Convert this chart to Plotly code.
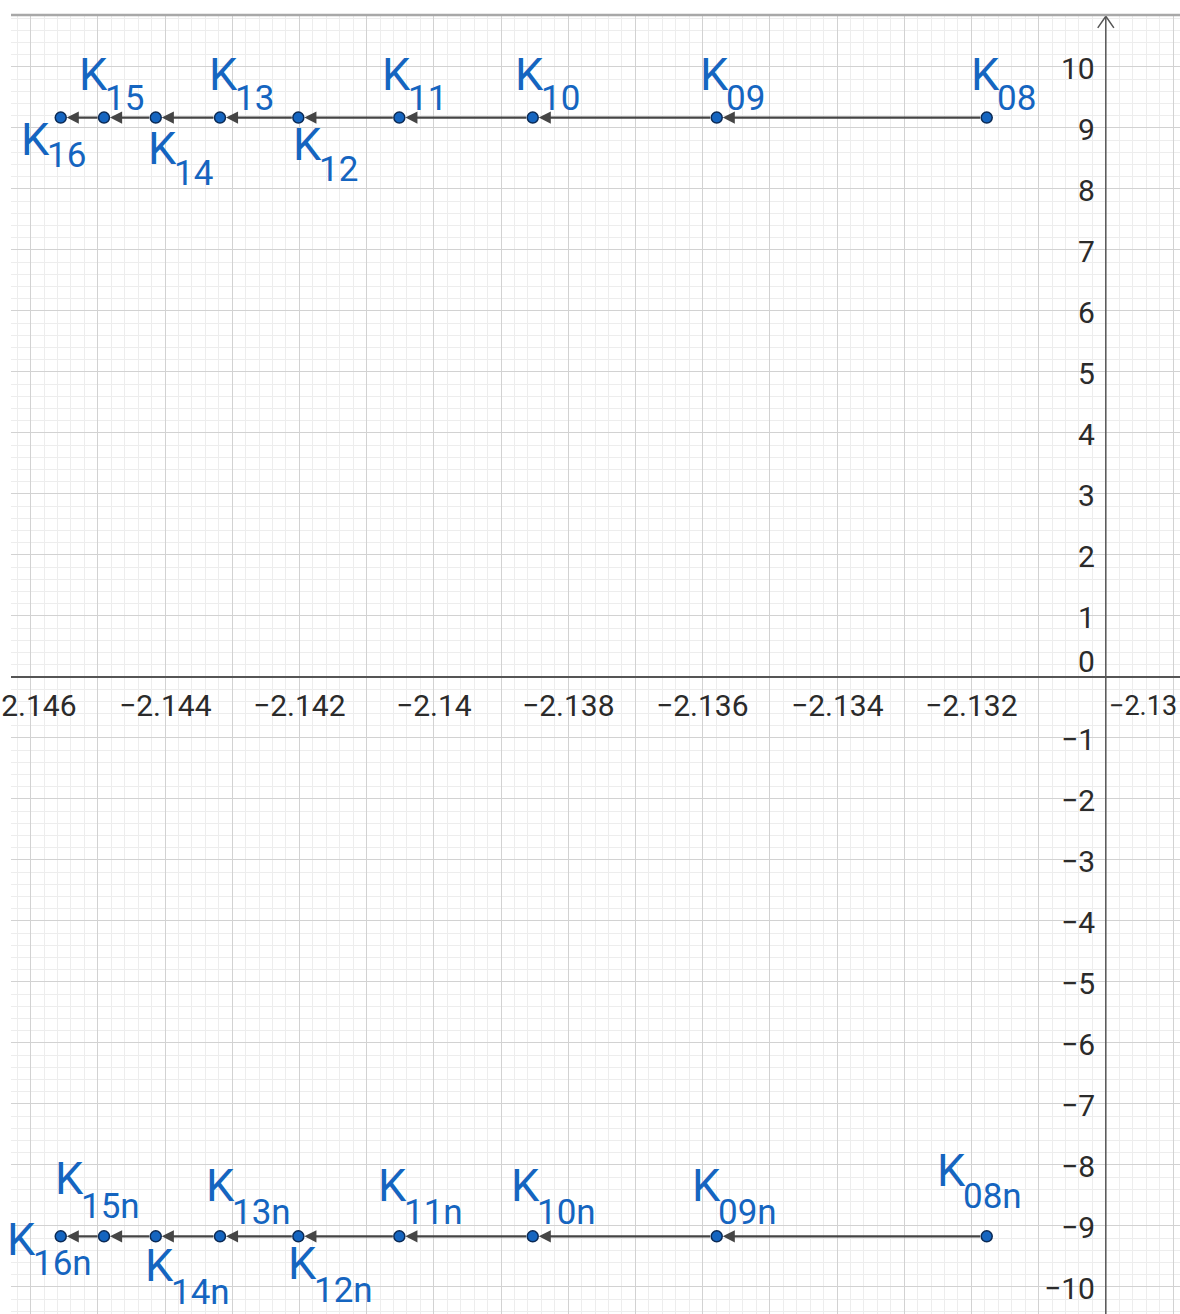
import plotly.graph_objects as go

# iterates K08 .. K16 (upper branch) and their mirror images K08n .. K16n
names = ["08", "09", "10", "11", "12", "13", "14", "15", "16"]
k_x = [-2.131772, -2.135790, -2.138528, -2.140513, -2.142016,
       -2.143182, -2.144138, -2.144908, -2.145552]
k_y_top = [9.17] * 9
k_y_bot = [-9.17] * 9

x_ticks = [-2.146, -2.144, -2.142, -2.14, -2.138, -2.136, -2.134, -2.132, -2.13]
x_tick_text = ["−2.146", "−2.144", "−2.142", "−2.14", "−2.138", "−2.136",
               "−2.134", "−2.132", "−2.13"]
y_ticks = [-10, -9, -8, -7, -6, -5, -4, -3, -2, -1, 0, 1, 2, 3, 4, 5, 6, 7, 8, 9, 10]

# label placement in px relative to each point: (K left, K centre y, subscript centre y)
lab_top = [(-12, -43, -19), (-13, -43, -19), (-14, -43, -19), (-13, -43, -19),
           (-1, 27, 52), (-7, -43, -19), (-4, 31, 56), (-21, -43, -19), (-36, 22, 38)]
lab_bot = [(-45, -66, -40), (-20, -51, -24), (-17, -51, -24), (-16, -51, -24),
           (-5, 27, 54), (-9, -51, -24), (-6, 29, 56), (-44, -58, -30), (-49, 3, 27)]

BLUE = "#1565c0"
AXIS = "#555555"
FONT = "Roboto, sans-serif"
x0_axis = -2.13
xr = [-2.146292, -2.128896]
yr = [-10.443, 10.852]

fig = go.Figure()

# y axis arrow head (open chevron)
fig.add_trace(go.Scatter(
    x=[x0_axis - 0.00012, x0_axis, x0_axis + 0.00012],
    y=[yr[1] - 0.21, yr[1] - 0.02, yr[1] - 0.21],
    mode="lines", line=dict(color=AXIS, width=1.5),
    hoverinfo="skip", showlegend=False, cliponaxis=False))

# points
for ys in (k_y_top, k_y_bot):
    fig.add_trace(go.Scatter(
        x=k_x, y=ys, mode="markers",
        marker=dict(size=11, color=BLUE, line=dict(color="#0b2a55", width=1.5)),
        showlegend=False))

annotations = []

# tick labels
for xv, txt in zip(x_ticks, x_tick_text):
    right_of_axis = xv == x0_axis
    annotations.append(dict(
        x=xv, y=0, xref="x", yref="y", showarrow=False, text=txt,
        xanchor="left" if right_of_axis else "center", yanchor="middle",
        xshift=1 if right_of_axis else 0, yshift=-29,
        font=dict(family=FONT, size=27 if right_of_axis else 30, color="#2b2b2b")))
for yv in y_ticks:
    annotations.append(dict(
        x=x0_axis, y=yv, xref="x", yref="y", showarrow=False,
        text=str(yv).replace("-", "−"), xanchor="right", yanchor="middle",
        xshift=-9, yshift=15 if yv == 0 else -2,
        font=dict(family=FONT, size=30, color="#2b2b2b")))

# vectors K_i -> K_{i+1}
for ys in (k_y_top, k_y_bot):
    for i in range(len(k_x) - 1):
        annotations.append(dict(
            x=k_x[i + 1], y=ys[i + 1], ax=k_x[i], ay=ys[i],
            xref="x", yref="y", axref="x", ayref="y",
            showarrow=True, arrowhead=2, arrowsize=1.1, arrowwidth=2.2,
            arrowcolor="#454545", standoff=6, startstandoff=5, text=""))

# point labels: big K plus a large subscript
for ys, labs, suffix, pull in ((k_y_top, lab_top, "", 4), (k_y_bot, lab_bot, "n", 5)):
    for xv, yv, nm, (kl, kc, sc) in zip(k_x, ys, names, labs):
        annotations.append(dict(
            x=xv, y=yv, xref="x", yref="y", showarrow=False, text="K",
            xanchor="left", yanchor="middle", xshift=kl - pull - 2, yshift=-kc,
            font=dict(family=FONT, size=45, color=BLUE)))
        annotations.append(dict(
            x=xv, y=yv, xref="x", yref="y", showarrow=False, text=nm + suffix,
            xanchor="left", yanchor="middle", xshift=kl - pull + 24, yshift=-sc,
            font=dict(family=FONT, size=35, color=BLUE)))

shapes = [
    # axes
    dict(type="line", xref="paper", yref="y", x0=0, x1=1, y0=0, y1=0,
         line=dict(color=AXIS, width=2)),
    dict(type="line", xref="x", yref="paper", x0=x0_axis, x1=x0_axis, y0=0, y1=1,
         line=dict(color=AXIS, width=1.5)),
    # top frame line
    dict(type="line", xref="paper", yref="paper", x0=0, x1=1, y0=1, y1=1,
         line=dict(color="#a8a8a8", width=2.5)),
]

fig.update_layout(
    width=1180, height=1314,
    margin=dict(l=11, r=0, t=15, b=0),
    paper_bgcolor="white", plot_bgcolor="white",
    annotations=annotations, shapes=shapes,
    xaxis=dict(range=xr, tick0=-2.146, dtick=0.001, showticklabels=False,
               showgrid=True, gridcolor="#d2d2d2", gridwidth=1.3,
               zeroline=False, showline=False, ticks="",
               minor=dict(tick0=-2.146, dtick=0.0002, showgrid=True,
                          gridcolor="#ededed", gridwidth=1)),
    yaxis=dict(range=yr, tick0=0, dtick=1, showticklabels=False,
               showgrid=True, gridcolor="#d2d2d2", gridwidth=1.3,
               zeroline=False, showline=False, ticks="",
               minor=dict(tick0=0, dtick=0.2, showgrid=True,
                          gridcolor="#ededed", gridwidth=1)),
)

fig.write_html("out.html", config={"displayModeBar": False},
               post_script="document.body.style.margin='0';document.body.style.overflow='hidden';")
